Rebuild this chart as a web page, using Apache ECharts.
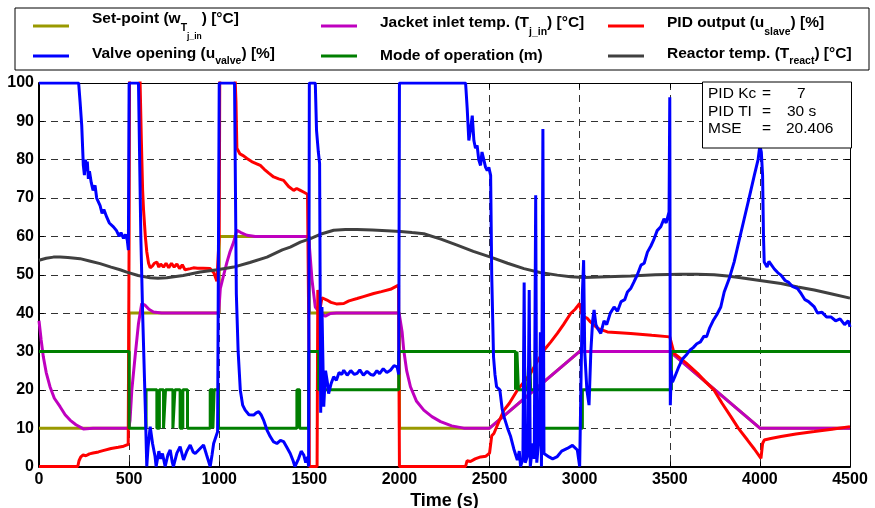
<!DOCTYPE html>
<html>
<head>
<meta charset="utf-8">
<script src="https://cdn.jsdelivr.net/npm/echarts@6/dist/echarts.min.js"></script>
<style>html,body{margin:0;padding:0;background:#fff;}#c{width:875px;height:508px;}</style>
</head>
<body>
<div id="c"></div>
<script>
// ---- data (time [s], value) ----
const setPoint = [[0,10],[500,10],[500,40],[1000,40],[1000,60],[1500,60],[1500,40],[2000,40],[2000,10],[2500,10],[3000,30],[3500,30],[4000,10],[4500,10]];

const jacketTemp = [[0,38],[12,33],[24,28.6],[40,24.5],[61,20.8],[85,17.8],[117,15.6],[145,13.5],[172,12.1],[205,10.9],[246,9.8],[300,10],[498,10],[505,12],[515,19.9],[533,28.6],[552,37.3],[570,42.5],[590,42],[610,41],[635,40.3],[680,40],[997,40],[1006,46.4],[1025,50],[1043,53.3],[1060,56],[1080,58.5],[1098,61.6],[1120,61],[1154,60.3],[1200,60],[1496,60],[1515,48.6],[1533,41.6],[1561,39.9],[1589,39.2],[1617,39.9],[1650,40],[1998,40],[2006,39.9],[2015,35],[2024,30.3],[2040,25],[2061,20.8],[2095,17],[2135,14.7],[2180,13],[2228,11.7],[2290,10.6],[2357,10],[2500,10],[3000,30],[3500,30],[4000,10],[4500,10]];

const pidOutput = [[0,0],[215,0],[222,1.5],[232,2.5],[245,3],[260,2.8],[280,3.3],[300,3.5],[330,3.8],[360,4.2],[400,4.7],[440,5],[470,5.3],[495,5.8],[500,60],[504,130],[556,130],[561,100],[568,85],[575,72],[580,67],[590,60],[598,56],[608,53],[617,51.8],[630,52.3],[640,53],[654,53.3],[665,52],[675,52.8],[691,52],[705,53],[720,51.8],[735,53],[750,52],[765,52.8],[780,51.6],[795,52.6],[810,51.3],[820,51.2],[840,51.6],[857,51.8],[880,51.7],[910,51.7],[950,51.6],[970,50.5],[987,48.3],[1000,60],[1005,130],[1085,130],[1089,100],[1093,95],[1098,83],[1115,81.5],[1135,81],[1154,80.3],[1180,79.5],[1205,79],[1228,78.5],[1250,77.5],[1275,76.5],[1302,75.5],[1330,75],[1357,74.6],[1385,73],[1413,72],[1430,72.5],[1450,72],[1470,71.5],[1490,71],[1498,30],[1500,0],[1543,0],[1547,46],[1555,44],[1561,41.5],[1570,44],[1580,43.7],[1598,43.4],[1620,42.8],[1650,42.4],[1691,42.5],[1720,43.2],[1765,43.8],[1800,44.3],[1857,45.1],[1900,45.6],[1950,46.2],[1995,47.3],[2000,0],[2367,0],[2375,1.5],[2394,1.3],[2420,2],[2450,2.5],[2480,2.7],[2500,3.5],[2506,3.4],[2512,8],[2524,8.6],[2550,11.5],[2580,14.7],[2610,16.5],[2654,19.9],[2690,22],[2728,24.3],[2760,27],[2802,30.3],[2840,32.5],[2876,34.7],[2910,37],[2950,39.9],[2975,41],[3000,42.5],[3010,40],[3025,39],[3043,38.6],[3060,37.7],[3100,36],[3154,35.1],[3220,34.9],[3283,34.7],[3400,34.2],[3500,33.8],[3506,33.5],[3524,29.5],[3590,27],[3654,24.3],[3700,22],[3746,19.9],[3790,16.5],[3839,13],[3880,10],[3931,6.9],[3970,4.5],[4006,2.1],[4015,6],[4024,6.9],[4060,7.3],[4117,7.8],[4200,8.5],[4302,9.1],[4400,9.7],[4500,10.4]];

const valveOpening = [[0,100],[220,100],[228,95],[237,89],[246,78.5],[252,76],[258,80],[263,77],[268,79.5],[274,75],[280,77],[290,74],[300,72],[311,73.3],[320,70],[330,69.5],[339,68],[350,66],[360,67],[376,65],[390,63.5],[400,64],[413,62.5],[430,61.5],[445,60],[455,61],[469,59.5],[480,60.5],[490,59],[496,56.4],[500,100],[552,100],[565,60],[575,40],[590,15],[598,0],[605,5],[617,10.4],[630,6],[644,2.6],[650,0],[665,4],[675,2],[685,3.4],[700,0],[715,3],[728,4.3],[740,1],[746,0],[765,3.5],[783,5.2],[802,1.7],[820,4],[839,5.6],[855,3.8],[867,3.4],[890,4.5],[913,5.6],[930,3],[950,0],[960,3],[969,6],[991,9.1],[1000,100],[1085,100],[1095,45],[1105,30],[1117,19.9],[1130,16],[1144,14.7],[1165,13.5],[1191,13.4],[1205,14],[1219,14.3],[1232,13.5],[1246,12.1],[1265,9.5],[1283,7.8],[1300,6.5],[1320,6],[1340,6.8],[1357,6.5],[1375,5],[1394,3.4],[1410,1.5],[1420,0],[1440,2],[1455,4],[1469,3],[1480,1],[1490,2.5],[1496,0],[1500,100],[1533,100],[1540,87.6],[1550,82],[1557,79],[1563,14],[1570,41.6],[1574,31],[1580,15.6],[1590,25],[1600,22],[1607,19],[1620,21.5],[1635,23.4],[1650,22.5],[1665,24.5],[1680,24],[1691,25.1],[1710,23.8],[1730,25],[1750,24],[1765,24.3],[1780,25.2],[1800,23.8],[1820,24.8],[1840,24],[1857,23.8],[1875,25],[1890,24.2],[1910,25.5],[1930,24.5],[1950,25.1],[1970,26.3],[1987,26],[1996,24],[2000,100],[2367,100],[2376,93.3],[2385,85],[2395,88],[2404,91.5],[2413,85],[2422,83],[2431,83.7],[2440,80],[2450,78.5],[2458,82],[2468,80],[2478,78],[2487,77.2],[2496,78],[2506,75.9],[2512,50],[2522,28.6],[2530,24],[2539,20.8],[2557,20],[2570,15],[2580,13],[2600,10],[2617,7.8],[2635,4.5],[2654,1.7],[2665,4],[2672,0],[2685,2],[2692,48],[2698,1],[2712,3],[2720,46],[2726,0],[2740,6],[2748,2],[2756,70.7],[2762,1],[2775,8],[2782,35],[2788,0],[2796,88],[2802,3.4],[2830,2.5],[2850,2],[2876,2.6],[2900,4],[2931,4.7],[2960,5.5],[2987,4.3],[3000,0],[3006,0],[3015,45],[3022,53.8],[3028,30],[3040,20],[3052,16],[3062,30],[3072,38],[3080,40.8],[3090,37],[3100,36],[3117,34.7],[3135,38],[3150,37],[3170,40],[3191,41.6],[3210,40.5],[3230,43],[3250,43.5],[3265,45.5],[3283,46.4],[3300,48],[3320,50],[3340,52.5],[3358,53],[3376,55.9],[3395,57.5],[3410,59],[3430,61.5],[3450,62.5],[3468,64.6],[3480,63.5],[3496,66.4],[3500,96.3],[3503,16],[3508,25],[3515,22],[3528,23.4],[3550,26],[3570,28],[3590,29],[3611,30.3],[3630,31],[3650,32],[3670,32.5],[3690,34],[3704,33.8],[3720,36],[3740,38],[3760,39.5],[3783,41.6],[3802,45.5],[3830,49],[3857,53.3],[3885,59],[3913,64.6],[3940,70],[3969,75.9],[3990,80],[4000,83.7],[4008,82],[4015,75.9],[4020,60],[4024,53.3],[4040,52],[4050,53.5],[4061,53.8],[4080,51.5],[4100,50.5],[4117,49.9],[4140,48.5],[4160,48],[4180,47],[4209,46.4],[4230,45],[4250,43.5],[4270,43],[4302,41.6],[4320,40],[4345,40.2],[4370,39],[4394,39],[4420,38],[4445,38.5],[4470,37],[4490,38],[4500,36.4]];

const modeOperation = [[0,30],[500,30],[500,10],[594,10],[594,20],[654,20],[654,10],[668,10],[668,20],[691,20],[691,10],[702,10],[702,20],[743,20],[743,10],[754,10],[754,20],[783,20],[783,10],[798,10],[798,20],[824,20],[824,10],[950,10],[950,20],[965,20],[965,10],[972,10],[972,20],[996,20],[996,10],[1431,10],[1431,20],[1446,20],[1446,10],[1496,10],[1496,30],[1552,30],[1552,20],[1996,20],[1996,30],[2644,30],[2644,20],[2652,20],[2652,30],[2660,30],[2660,20],[2690,20],[2690,30],[2700,30],[2700,20],[2722,20],[2722,30],[2728,30],[2728,20],[2752,20],[2752,30],[2762,30],[2762,20],[2793,20],[2793,10],[3015,10],[3015,20],[3509,20],[3509,30],[4500,30]];

const reactorTemp = [[0,53.8],[40,54.3],[80,54.6],[117,54.6],[160,54.5],[228,54.2],[280,53.6],[339,52.9],[400,52],[450,51.3],[487,50.7],[550,49.8],[617,49.2],[660,49.1],[709,49.2],[800,49.8],[894,50.7],[990,51.3],[1080,52],[1170,53.2],[1265,54.6],[1350,56.5],[1394,57.2],[1450,58.5],[1506,59.4],[1570,60.7],[1635,61.6],[1700,61.8],[1765,61.8],[1850,61.7],[1930,61.5],[2006,61.3],[2070,61],[2135,60.7],[2230,59.3],[2320,57.7],[2410,56.1],[2506,54.6],[2600,53],[2691,51.6],[2780,50.6],[2876,49.9],[2950,49.5],[3024,49.3],[3150,49.5],[3283,49.7],[3420,50],[3561,50.1],[3650,50.1],[3746,50],[3820,49.7],[3894,49.2],[4000,48.5],[4117,47.7],[4210,46.8],[4302,46],[4400,45],[4500,43.9]];

const seriesNames = ['Set-point', 'Jacket inlet temp.', 'PID output', 'Valve opening', 'Mode of operation', 'Reactor temp.'];
const legendRich = {
  'Set-point': '{m|Set-point (w}{s|T}{ss|j_in}{m|) [°C]}',
  'Jacket inlet temp.': '{m|Jacket inlet temp. (T}{s|j_in}{m|) [°C]}',
  'PID output': '{m|PID output (u}{s|slave}{m|) [%]}',
  'Valve opening': '{m|Valve opening (u}{s2|valve}{m|) [%]}',
  'Mode of operation': '{m|Mode of operation (m)}',
  'Reactor temp.': '{m|Reactor temp. (T}{s2|react}{m|) [°C]}'
};
const annotLabels = ['PID Kc', 'PID TI', 'MSE'];
const annotValues = ['7', '30 s', '20.406'];

// ---- chart ----
const AF = "'Liberation Sans', Arial, sans-serif";
const richStyles = {
  m: {fontFamily: AF, fontSize: 15.5, fontWeight: 'bold', color: '#000', verticalAlign: 'top'},
  s: {fontFamily: AF, fontSize: 10.5, fontWeight: 'bold', color: '#000', verticalAlign: 'top', padding: [12,0,0,0]},
  s2:{fontFamily: AF, fontSize: 10.5, fontWeight: 'bold', color: '#000', verticalAlign: 'top', padding: [10,0,0,0]},
  ss:{fontFamily: AF, fontSize: 8.5, fontWeight: 'bold', color: '#000', verticalAlign: 'top', padding: [21,0,0,0]}
};
const legendPos = [
  {name: 'Set-point', left: 33, top: 11},
  {name: 'Jacket inlet temp.', left: 321, top: 14.5},
  {name: 'PID output', left: 608, top: 14.5},
  {name: 'Valve opening', left: 33, top: 45.5},
  {name: 'Mode of operation', left: 321, top: 48},
  {name: 'Reactor temp.', left: 608, top: 45.5}
];
const legends = legendPos.map(p => ({
  data: [p.name], left: p.left, top: p.top, padding: 0, orient: 'vertical',
  icon: 'rect', itemWidth: 36, itemHeight: 3, selectedMode: false,
  formatter: n => legendRich[n],
  textStyle: {padding: [0,0,0,18], rich: richStyles}
}));

const colors = ['#999900', '#bf00bf', '#ff0000', '#0000ff', '#007f00', '#404040'];
const dataSets = [setPoint, jacketTemp, pidOutput, valveOpening, modeOperation, reactorTemp];
const zs = [1, 2, 3, 6, 4, 5];
const series = seriesNames.map((n, i) => ({
  name: n, type: 'line', data: dataSets[i], showSymbol: false, symbol: 'none',
  color: colors[i], lineStyle: {color: colors[i], width: 3}, z: zs[i], clip: true
}));

const tickCommon = {show: true, inside: true, length: 5, lineStyle: {color: '#000', width: 1}};
const splitCommon = {show: true, lineStyle: {color: '#333', width: 1, type: [7, 5]}};

const annotGraphics = [{type: 'rect', shape: {x: 702.5, y: 82, width: 149, height: 66},
  style: {fill: '#fff', stroke: '#000', lineWidth: 1}, z: 100}];
annotLabels.forEach((l, i) => {
  const y = 93.5 + i * 17.8;
  annotGraphics.push({type: 'text', x: 708, y: y, z: 101, style: {text: l, font: "15.5px " + AF, fill: '#000', verticalAlign: 'middle'}});
  annotGraphics.push({type: 'text', x: 762, y: y, z: 101, style: {text: '=', font: "15.5px " + AF, fill: '#000', verticalAlign: 'middle'}});
});
const valX = [797, 787, 786];
annotValues.forEach((v, i) => {
  annotGraphics.push({type: 'text', x: valX[i], y: 93.5 + i * 17.8, z: 101, style: {text: v, font: "15.5px " + AF, fill: '#000', verticalAlign: 'middle'}});
});

const option = {
  animation: false,
  backgroundColor: '#fff',
  grid: {left: 39, right: 25, top: 83, bottom: 41.5, containLabel: false, outerBoundsMode: 'none'},
  legend: legends,
  graphic: [{type: 'rect', shape: {x: 15, y: 8, width: 854, height: 62}, style: {fill: '#fff', stroke: '#000', lineWidth: 1}, z: -1}].concat(annotGraphics),
  xAxis: [
    {type: 'value', min: 0, max: 4500, interval: 500, position: 'bottom',
     axisLine: {show: true, onZero: false, lineStyle: {color: '#000', width: 2}},
     axisTick: tickCommon,
     axisLabel: {color: '#000', fontFamily: AF, fontWeight: 'bold', fontSize: 16, margin: 5, formatter: v => String(v)},
     splitLine: splitCommon,
     name: 'Time (s)', nameLocation: 'middle', nameGap: 22,
     nameTextStyle: {color: '#000', fontFamily: AF, fontWeight: 'bold', fontSize: 18}},
    {type: 'value', min: 0, max: 4500, interval: 500, position: 'top',
     axisLine: {show: true, onZero: false, lineStyle: {color: '#000', width: 1}},
     axisTick: tickCommon, axisLabel: {show: false}, splitLine: {show: false}}
  ],
  yAxis: [
    {type: 'value', min: 0, max: 100, interval: 10, position: 'left',
     axisLine: {show: true, onZero: false, lineStyle: {color: '#000', width: 2}},
     axisTick: tickCommon,
     axisLabel: {color: '#000', fontFamily: AF, fontWeight: 'bold', fontSize: 16, margin: 5, formatter: v => String(v)},
     splitLine: splitCommon},
    {type: 'value', min: 0, max: 100, interval: 10, position: 'right',
     axisLine: {show: true, onZero: false, lineStyle: {color: '#000', width: 1}},
     axisTick: tickCommon, axisLabel: {show: false}, splitLine: {show: false}}
  ],
  series: series
};
const chart = echarts.init(document.getElementById('c'), null, {renderer: 'canvas'});
chart.setOption(option);
</script>
</body>
</html>
